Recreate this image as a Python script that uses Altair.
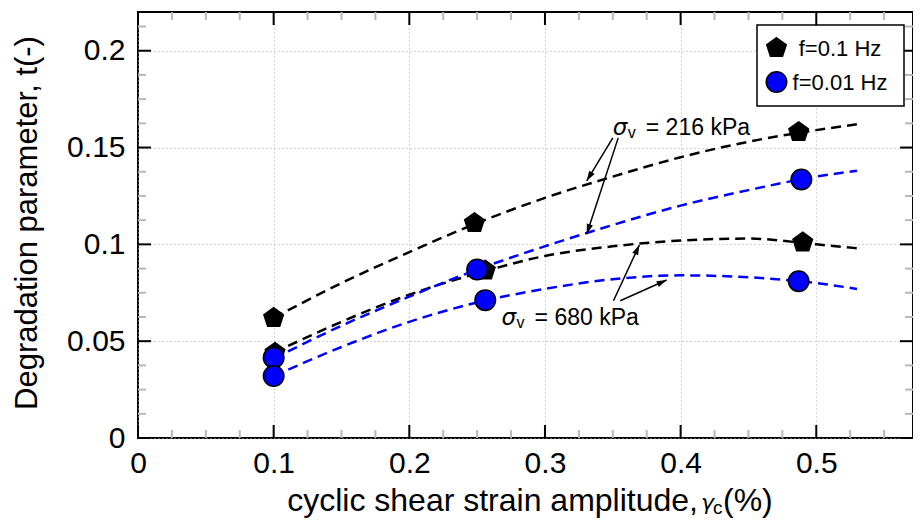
import math
import altair as alt
import pandas as pd

# ---------------- data ----------------
freq_labels = ["f=0.1 Hz", "f=0.01 Hz"]
stress_labels = ["216 kPa", "680 kPa"]

# measured points
pt_x_01_216 = [0.100, 0.248, 0.487]
pt_y_01_216 = [0.062, 0.111, 0.158]
pt_x_01_680 = [0.101, 0.256, 0.490]
pt_y_01_680 = [0.044, 0.0865, 0.101]
pt_x_001_216 = [0.100, 0.250, 0.489]
pt_y_001_216 = [0.0415, 0.087, 0.1335]
pt_x_001_680 = [0.100, 0.256, 0.487]
pt_y_001_680 = [0.032, 0.0712, 0.081]

# dashed trend curves
fit_x = [0.10, 0.15, 0.20, 0.25, 0.30, 0.35, 0.40, 0.45, 0.50, 0.53]
fit_y_01_216 = [0.062, 0.080, 0.096, 0.111, 0.124, 0.135, 0.145, 0.153, 0.159, 0.162]
fit_y_01_680 = [0.044, 0.060, 0.074, 0.085, 0.094, 0.099, 0.102, 0.103, 0.100, 0.098]
fit_y_001_216 = [0.041, 0.058, 0.073, 0.087, 0.099, 0.110, 0.120, 0.128, 0.135, 0.138]
fit_y_001_680 = [0.032, 0.047, 0.060, 0.070, 0.077, 0.082, 0.084, 0.083, 0.080, 0.077]

x_major = [0, 0.1, 0.2, 0.3, 0.4, 0.5]
y_major = [0, 0.05, 0.1, 0.15, 0.2]
x_minor = [0.025, 0.05, 0.075, 0.125, 0.15, 0.175, 0.225, 0.25, 0.275, 0.325, 0.35,
           0.375, 0.425, 0.45, 0.475, 0.525, 0.55]
y_minor = [0.0125, 0.025, 0.0375, 0.0625, 0.075, 0.0875, 0.1125, 0.125, 0.1375,
           0.1625, 0.175, 0.1875, 0.2125]

# annotation arrows (start -> tip), data coordinates
arrow_x = [0.350, 0.354, 0.3505, 0.3555]
arrow_y = [0.155, 0.155, 0.0709, 0.0709]
arrow_x2 = [0.3308, 0.3308, 0.3696, 0.3897]
arrow_y2 = [0.1328, 0.1054, 0.0997, 0.0816]

ann_x = [0.3500, 0.2680]
ann_y = [0.1565, 0.0586]
ann_text = ["= 216 kPa", "= 680 kPa"]

# ---------------- layout ----------------
FONT = "Liberation Sans"
W, H = 775, 426
XMAX, YMAX = 0.5713, 0.22
xs = alt.Scale(domain=[0, XMAX], nice=False, zero=False)
ys = alt.Scale(domain=[0, YMAX], nice=False, zero=False)

x_axis = alt.Axis(values=x_major, format="~g", title=None, ticks=False, domain=False,
                  grid=True, gridDash=[1, 3], gridColor="#a8a8a8", gridWidth=1,
                  labelFontSize=30, labelFont=FONT, labelColor="black", labelPadding=10,
                  labelFlush=False)
y_axis = alt.Axis(values=y_major, format="~g", title=None, ticks=False, domain=False,
                  grid=True, gridDash=[1, 3], gridColor="#a8a8a8", gridWidth=1,
                  labelFontSize=30, labelFont=FONT, labelColor="black", labelPadding=13,
                  labelFlush=False)

X = lambda f="x": alt.X(f"{f}:Q", scale=xs, axis=x_axis)
Y = lambda f="y": alt.Y(f"{f}:Q", scale=ys, axis=y_axis)

# ---------------- tables ----------------
pts = []
for fq, st, xx, yy in [
    (freq_labels[0], stress_labels[0], pt_x_01_216, pt_y_01_216),
    (freq_labels[0], stress_labels[1], pt_x_01_680, pt_y_01_680),
    (freq_labels[1], stress_labels[0], pt_x_001_216, pt_y_001_216),
    (freq_labels[1], stress_labels[1], pt_x_001_680, pt_y_001_680),
]:
    for a, b in zip(xx, yy):
        pts.append({"freq": fq, "stress": st, "x": a, "y": b})
pts = pd.DataFrame(pts)

fits = []
for fq, st, yy in [
    (freq_labels[0], stress_labels[0], fit_y_01_216),
    (freq_labels[0], stress_labels[1], fit_y_01_680),
    (freq_labels[1], stress_labels[0], fit_y_001_216),
    (freq_labels[1], stress_labels[1], fit_y_001_680),
]:
    for a, b in zip(fit_x, yy):
        fits.append({"freq": fq, "stress": st, "x": a, "y": b})
fits = pd.DataFrame(fits)

sx, sy = W / XMAX, H / YMAX
arrows = pd.DataFrame({"x": arrow_x, "y": arrow_y, "x2": arrow_x2, "y2": arrow_y2})
arrows["ang"] = [
    (math.degrees(math.atan2((b2 - b1) * sx, (c2 - c1) * sy)) + 360) % 360
    for b1, c1, b2, c2 in zip(arrow_x, arrow_y, arrow_x2, arrow_y2)
]
ann = pd.DataFrame({"x": ann_x, "y": ann_y, "t": ann_text})

PENTAGON = "M0,-1L0.951,-0.309L0.588,0.809L-0.588,0.809L-0.951,-0.309Z"
HEAD = "M0,0L-0.32,1L0.32,1Z"

shape_scale = alt.Scale(domain=freq_labels, range=[PENTAGON, "circle"])
fill_scale = alt.Scale(domain=freq_labels, range=["black", "#0000ff"])

# ---------------- layers ----------------
lines = alt.Chart(fits).mark_line(strokeDash=[10, 6], strokeWidth=2.5, interpolate="monotone").encode(
    x=X(), y=Y(),
    color=alt.Color("freq:N", scale=fill_scale, legend=None),
    detail="stress:N",
)

points = alt.Chart(pts).mark_point(filled=True, stroke="black", strokeWidth=1.5, size=420, opacity=1).encode(
    x=X(), y=Y(),
    shape=alt.Shape("freq:N", scale=shape_scale, legend=None),
    fill=alt.Fill("freq:N", scale=fill_scale, legend=None),
)

arrow_lines = alt.Chart(arrows).mark_rule(color="black", strokeWidth=1.5).encode(
    x=X(), y=Y(), x2="x2:Q", y2="y2:Q")
arrow_heads = alt.Chart(arrows).mark_point(shape=HEAD, filled=True, color="black", size=400, opacity=1).encode(
    x=X("x2"), y=Y("y2"), angle=alt.Angle("ang:Q", scale=None))

sig = alt.Chart(ann).mark_text(text="σ", font="DejaVu Sans", fontStyle="italic", fontSize=23,
                               align="left", baseline="alphabetic", color="black").encode(x=X(), y=Y())
sub_v = alt.Chart(ann).mark_text(text="v", font=FONT, fontSize=16, align="left", baseline="alphabetic",
                                 dx=15, dy=3, color="black").encode(x=X(), y=Y())
rest = alt.Chart(ann).mark_text(font=FONT, fontSize=23, align="left", baseline="alphabetic",
                                dx=33, color="black").encode(x=X(), y=Y(), text="t:N")

# ticks (inward), major black, minor gray
xmaj = pd.DataFrame({"x": x_major})
xmin = pd.DataFrame({"x": x_minor})
ymaj = pd.DataFrame({"y": y_major})
ymin = pd.DataFrame({"y": y_minor})
tick_layers = []
for df, L, col in [(xmaj, 13, "black"), (xmin, 8, "#b8b8b8")]:
    tick_layers.append(alt.Chart(df).mark_rule(color=col, strokeWidth=2).encode(
        x=X(), y=alt.value(H), y2=alt.value(H - L)))
    tick_layers.append(alt.Chart(df).mark_rule(color=col, strokeWidth=2).encode(
        x=X(), y=alt.value(0), y2=alt.value(L)))
for df, L, col in [(ymaj, 13, "black"), (ymin, 8, "#b8b8b8")]:
    tick_layers.append(alt.Chart(df).mark_rule(color=col, strokeWidth=2).encode(
        y=Y(), x=alt.value(0), x2=alt.value(L)))
    tick_layers.append(alt.Chart(df).mark_rule(color=col, strokeWidth=2).encode(
        y=Y(), x=alt.value(W), x2=alt.value(W - L)))

# legend (drawn box, symbols through the same shape/fill scales)
one = pd.DataFrame({"k": [0]})
leg_box = alt.Chart(one).mark_rect(fill="white", stroke="black", strokeWidth=1.5).encode(
    x=alt.value(619), x2=alt.value(766), y=alt.value(13), y2=alt.value(94))
leg_layers = [leg_box]
for i, fq in enumerate(freq_labels):
    d = pd.DataFrame({"freq": [fq]})
    yy = 36 + 34 * i
    leg_layers.append(alt.Chart(d).mark_point(filled=True, stroke="black", strokeWidth=1.5,
                                              size=420, opacity=1).encode(
        x=alt.value(638.5), y=alt.value(yy),
        shape=alt.Shape("freq:N", scale=shape_scale, legend=None),
        fill=alt.Fill("freq:N", scale=fill_scale, legend=None)))
    leg_layers.append(alt.Chart(d).mark_text(font=FONT, fontSize=22, align="center", baseline="middle",
                                             color="black").encode(
        x=alt.value(702), y=alt.value(yy + 1), text="freq:N"))

# titles
TB = 499
ytitle = alt.Chart(one).mark_text(text="Degradation parameter, t(-)", font=FONT, fontSize=31, angle=270,
                                  align="center", baseline="alphabetic", color="black").encode(
    x=alt.value(-101), y=alt.value(211))
xt1 = alt.Chart(one).mark_text(text="cyclic shear strain amplitude,", font=FONT, fontSize=32,
                               align="right", baseline="alphabetic", color="black").encode(
    x=alt.value(560), y=alt.value(TB))
xt2 = alt.Chart(one).mark_text(text="γ", font="DejaVu Sans", fontStyle="italic", fontSize=22,
                               align="left", baseline="alphabetic", color="black").encode(
    x=alt.value(563), y=alt.value(TB - 1))
xt3 = alt.Chart(one).mark_text(text="c", font=FONT, fontSize=19,
                               align="left", baseline="alphabetic", color="black").encode(
    x=alt.value(575), y=alt.value(TB + 3))
xt4 = alt.Chart(one).mark_text(text="(%)", font=FONT, fontSize=32,
                               align="left", baseline="alphabetic", color="black").encode(
    x=alt.value(585), y=alt.value(TB))

chart = alt.layer(
    lines, *tick_layers, arrow_lines, arrow_heads, sig, sub_v, rest, points,
    *leg_layers, ytitle, xt1, xt2, xt3, xt4,
).properties(
    width=W, height=H,
    autosize=alt.AutoSizeParams(type="none"),
    padding={"left": 130, "top": 4, "right": 0, "bottom": 81},
).configure_view(
    stroke="black", strokeWidth=2,
)

chart.save("out.html", embed_options={"renderer": "svg", "actions": False})
